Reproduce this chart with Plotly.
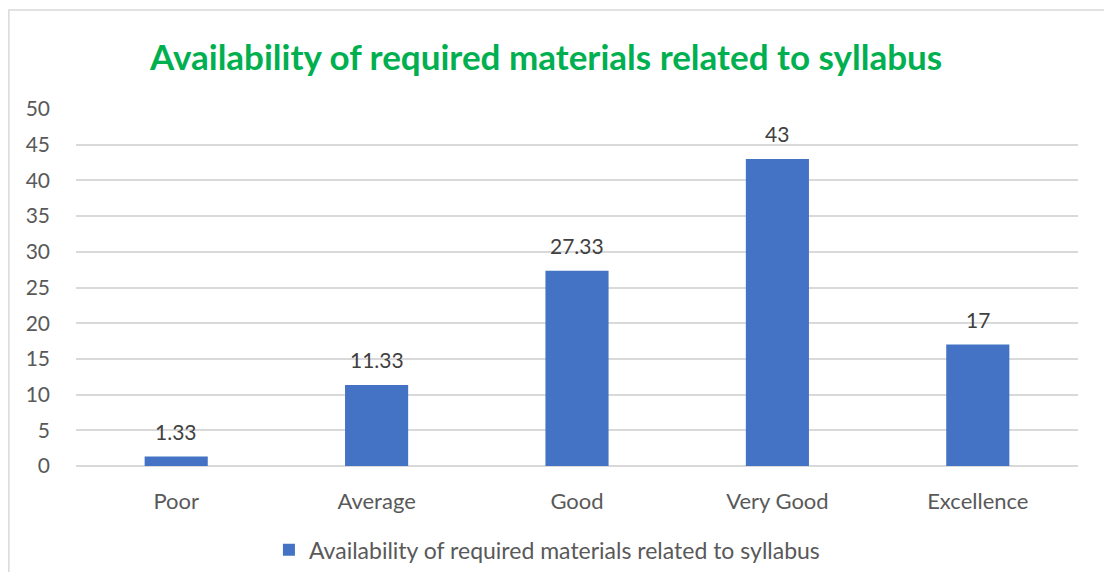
import plotly.graph_objects as go

BAR_BLUE = "#4472C4"
TITLE_GREEN = "#00B050"
GRID_GRAY = "#D9D9D9"
TEXT_GRAY = "#595959"

categories = ["Poor", "Average", "Good", "Very Good", "Excellence"]
values = [1.33, 11.33, 27.33, 43, 17]
value_labels = ["1.33", "11.33", "27.33", "43", "17"]
series_name = "Availability of required materials related to syllabus"
y_ticks = [0, 5, 10, 15, 20, 25, 30, 35, 40, 45, 50]

fig = go.Figure()
fig.add_trace(go.Bar(
    x=categories,
    y=values,
    name=series_name,
    marker_color=BAR_BLUE,
    marker_line_width=0,
))

# data labels sit a bit higher above the bars than plotly's "outside" text
annotations = [
    dict(x=c, y=v, text=t, showarrow=False, yanchor="bottom", yshift=11,
         font=dict(size=21, color="#404040"))
    for c, v, t in zip(categories, values, value_labels)
]

# page body keeps its 8px margin, so the figure is a bit smaller than the window
fig.update_layout(
    width=1096,
    height=564,
    paper_bgcolor="white",
    plot_bgcolor="white",
    font=dict(family="Lato, sans-serif", color=TEXT_GRAY, size=20),
    margin=dict(l=68, r=26, t=101, b=106, autoexpand=False),
    bargap=0.685,
    title=dict(
        text="<b>Availability of required materials related to syllabus</b>",
        font=dict(size=35, color=TITLE_GREEN, family="Lato, sans-serif"),
        x=0.491, xref="container", xanchor="center",
        y=0.911, yref="container", yanchor="middle",
    ),
    xaxis=dict(
        showgrid=False,
        showline=False,
        ticks="",
        ticklabelstandoff=20,
        tickfont=dict(size=22, color=TEXT_GRAY),
    ),
    yaxis=dict(
        range=[0, 50],
        tickvals=y_ticks,
        gridcolor=GRID_GRAY,
        gridwidth=1.5,
        zeroline=True,
        zerolinecolor=GRID_GRAY,
        zerolinewidth=1.5,
        ticks="",
        ticklabelstandoff=25,
        tickfont=dict(size=21, color=TEXT_GRAY),
    ),
    showlegend=True,
    legend=dict(
        orientation="h",
        x=0.47, xanchor="center",
        y=-0.235, yanchor="middle",
        font=dict(size=23, color=TEXT_GRAY),
        itemwidth=30,
    ),
    annotations=annotations,
    shapes=[
        # chart frame (right and bottom edges fall outside the picture)
        dict(type="rect", xref="paper", yref="paper",
             x0=-0.067, x1=1.2, y0=-0.5, y1=1.277,
             line=dict(color=GRID_GRAY, width=1.5), layer="below"),
    ],
)

fig.write_html("out.html")
